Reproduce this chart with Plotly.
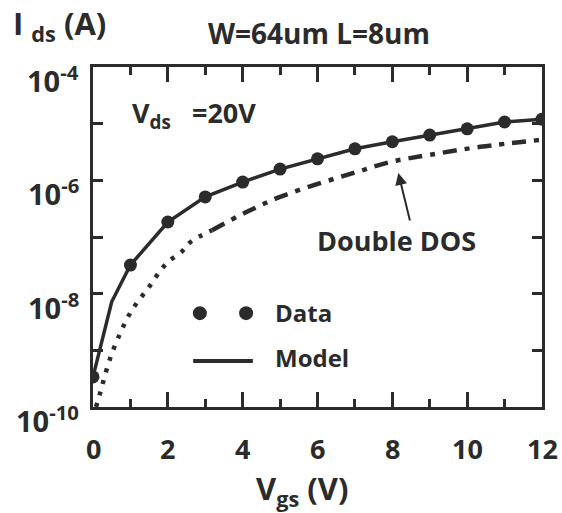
import math
import plotly.graph_objects as go

# ---- data ----
data_vgs = [0, 1, 2, 3, 4, 5, 6, 7, 8, 9, 10, 11, 12]
data_ids = [3.4e-10, 3.2e-8, 1.84e-7, 5.1e-7, 9.3e-7, 1.58e-6, 2.4e-6,
            3.6e-6, 4.8e-6, 6.3e-6, 8.1e-6, 1.07e-5, 1.2e-5]

model_vgs = [0, 0.15, 0.5, 1, 2, 3, 4, 5, 6, 7, 8, 9, 10, 11, 12]
model_ids = [3.4e-10, 8.3e-10, 7.2e-9, 3.2e-8, 1.84e-7, 5.1e-7, 9.3e-7,
             1.58e-6, 2.4e-6, 3.6e-6, 4.8e-6, 6.3e-6, 8.1e-6, 1.07e-5, 1.2e-5]

dos_vgs = [0.08, 0.2, 0.4, 0.56, 0.72, 0.88, 1.06, 1.28, 1.5, 1.74, 2.0,
           2.37, 2.6, 3.18, 4.1, 5.0, 6.07, 7.06, 7.94, 9.0, 10.35, 12]
dos_ids = [1.0e-10, 1.86e-10, 5.5e-10, 1.1e-9, 1.95e-9, 3.3e-9, 5.4e-9,
           8.5e-9, 1.32e-8, 2.24e-8, 3.63e-8, 5.5e-8, 8.1e-8, 1.32e-7,
           2.75e-7, 5.1e-7, 8.9e-7, 1.41e-6, 2.1e-6, 2.82e-6, 3.9e-6, 5.2e-6]
dos_split = 13  # dotted up to this index, dash-dot afterwards

x_ticks = [0, 2, 4, 6, 8, 10, 12]
x_ticktext = ["0", "2", "4", "6", "8", "10", "12"]
y_ticks = [1e-10, 1e-9, 1e-8, 1e-7, 1e-6, 1e-5, 1e-4]
y_label_vals = [1e-10, 1e-8, 1e-6, 1e-4]
y_label_text = ["10<sup>-10</sup>", "10<sup>-8</sup>", "10<sup>-6</sup>", "10<sup>-4</sup>"]

INK = "#2b2b2b"
FONT = "Open Sans"

fig = go.Figure()

fig.add_trace(go.Scatter(x=dos_vgs[:dos_split + 1], y=dos_ids[:dos_split + 1],
                         mode="lines", line=dict(color=INK, width=4.5, dash="4px,8px", shape="spline"),
                         showlegend=False, hoverinfo="skip"))
fig.add_trace(go.Scatter(x=dos_vgs[dos_split:], y=dos_ids[dos_split:],
                         mode="lines", line=dict(color=INK, width=4.5, dash="14px,8px,5px,8px", shape="spline"),
                         showlegend=False, hoverinfo="skip"))
fig.add_trace(go.Scatter(x=model_vgs, y=model_ids, mode="lines",
                         line=dict(color=INK, width=3.5), showlegend=False))
fig.add_trace(go.Scatter(x=data_vgs, y=data_ids, mode="markers",
                         marker=dict(color=INK, size=13), showlegend=False))

fig.update_xaxes(range=[0, 12], tickvals=x_ticks, ticks="inside", ticklen=15, tickwidth=2.5,
                 tickcolor=INK, showline=True, linewidth=2.5, linecolor=INK, mirror="allticks",
                 showgrid=False, zeroline=False, showticklabels=False,
                 minor=dict(dtick=1, ticks="inside", ticklen=8, tickwidth=2.5, tickcolor=INK, showgrid=False))
fig.update_yaxes(type="log", range=[-10, -4], tickvals=y_ticks,
                 ticks="inside", ticklen=10, tickwidth=2.5, tickcolor=INK,
                 showline=True, linewidth=2.5, linecolor=INK, mirror="allticks",
                 showgrid=False, zeroline=False, showticklabels=False)

ann_font = lambda s: dict(family=FONT, size=s, color=INK, weight="bold")

annotations = []
for v, t in zip(x_ticks, x_ticktext):
    annotations.append(dict(text=t, x=v, y=-0.121, xref="x", yref="paper", xanchor="center",
                            yanchor="middle", showarrow=False, font=ann_font(27)))
for v, t in zip(y_label_vals, y_label_text):
    annotations.append(dict(text=t, x=-0.027, y=math.log10(v), xref="paper", yref="y", xanchor="right",
                            yanchor="middle", yshift=-12, showarrow=False, font=ann_font(29)))

annotations += [
    dict(text="I <sub>ds</sub> (A)", x=-0.182, y=1.125, xref="paper", yref="paper",
         xanchor="left", yanchor="middle", showarrow=False, font=ann_font(31)),
    dict(text="W=64um L=8um", x=0.503, y=1.10, xref="paper", yref="paper",
         xanchor="center", yanchor="middle", showarrow=False, font=ann_font(28)),
    dict(text="V<sub>ds</sub>   =20V", x=0.082, y=0.86, xref="paper", yref="paper",
         xanchor="left", yanchor="middle", showarrow=False, font=ann_font(27)),
    dict(text="Double DOS", x=0.677, y=0.49, xref="paper", yref="paper",
         xanchor="center", yanchor="middle", showarrow=False, font=ann_font(27)),
    dict(text="", x=8.16, y=-5.87, ax=8.48, ay=-6.735, xref="x", yref="y", axref="x", ayref="y",
         showarrow=True, arrowhead=2, arrowsize=1.2, arrowwidth=2, arrowcolor=INK),
    dict(text="Data", x=0.401, y=0.278, xref="paper", yref="paper",
         xanchor="left", yanchor="middle", showarrow=False, font=ann_font(24)),
    dict(text="Model", x=0.401, y=0.145, xref="paper", yref="paper",
         xanchor="left", yanchor="middle", showarrow=False, font=ann_font(24)),
    dict(text="V<sub>gs</sub> (V)", x=0.465, y=-0.245, xref="paper", yref="paper",
         xanchor="center", yanchor="middle", showarrow=False, font=ann_font(31)),
]

shapes = []
for px in (0.238, 0.341):
    shapes.append(dict(type="circle", xref="paper", yref="paper", xsizemode="pixel", ysizemode="pixel",
                       xanchor=px, yanchor=0.276, x0=-7, x1=7, y0=-7, y1=7,
                       fillcolor=INK, line=dict(width=0)))
shapes.append(dict(type="line", xref="paper", yref="paper", x0=0.223, x1=0.356, y0=0.135, y1=0.135,
                   line=dict(color=INK, width=4)))

fig.update_layout(width=562, height=513, margin=dict(l=93, r=20, t=67, b=106),
                  paper_bgcolor="white", plot_bgcolor="white",
                  annotations=annotations, shapes=shapes,
                  font=dict(family=FONT, color=INK))

fig.write_html("out.html")
